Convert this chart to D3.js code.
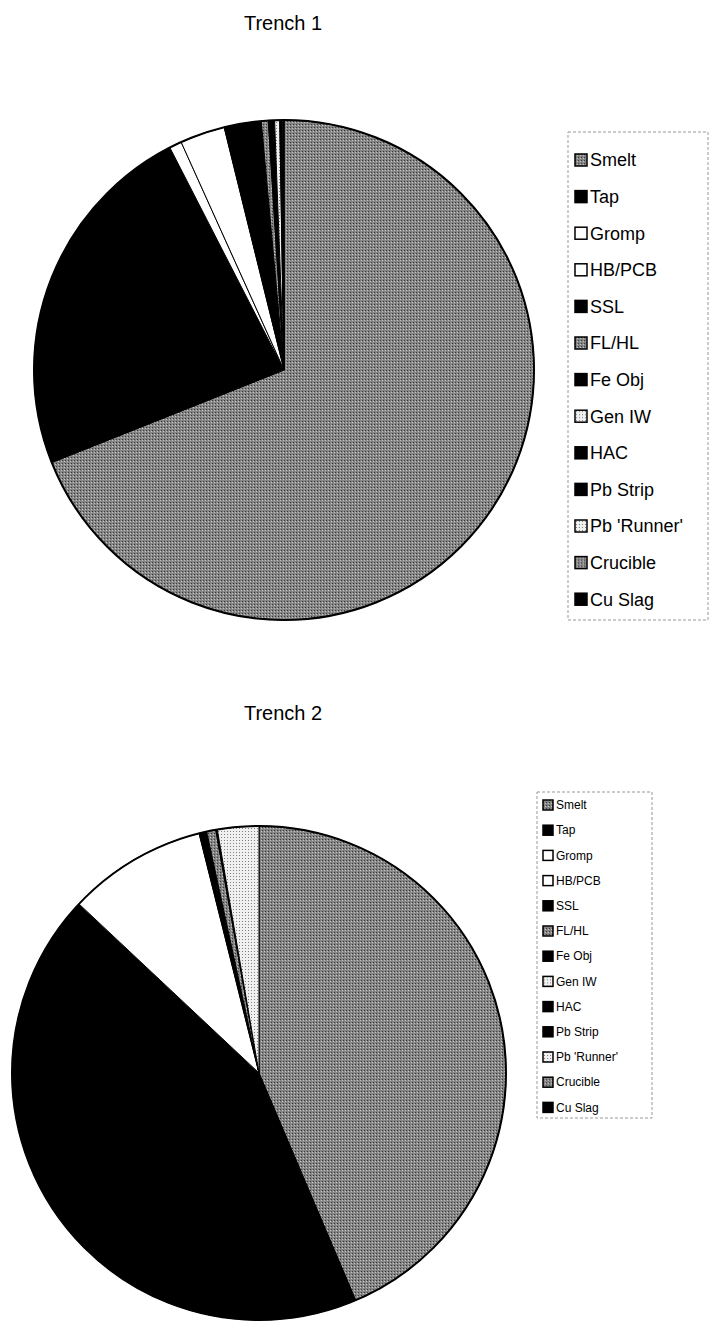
<!DOCTYPE html>
<html>
<head>
<meta charset="utf-8">
<script src="https://cdn.jsdelivr.net/npm/d3@7/dist/d3.min.js"></script>
<style>
  html, body { margin: 0; padding: 0; background: #fff; }
  svg { display: block; }
  text { font-family: "Liberation Sans", Arial, sans-serif; fill: #000; }
</style>
</head>
<body>
<svg id="chart" width="712" height="1324"></svg>
<script>
// ---- data ----
const categories = ["Smelt", "Tap", "Gromp", "HB/PCB", "SSL", "FL/HL", "Fe Obj", "Gen IW", "HAC", "Pb Strip", "Pb 'Runner'", "Crucible", "Cu Slag"];
const trench1Values = [69.0, 23.5, 0.8, 2.9, 2.4, 0.45, 0.4, 0.33, 0.1, 0.05, 0.05, 0.05, 0.02];
const trench2Values = [43.6, 43.4, 0.0, 9.1, 0.5, 0.6, 0.1, 2.7, 0.0, 0.0, 0.0, 0.0, 0.0];
const titles = ["Trench 1", "Trench 2"];
const fillKinds = ["gray", "black", "white", "white", "black", "gray", "black", "light", "black", "black", "light", "gray", "black"];

// ---- drawing ----
const svg = d3.select("#chart");
const defs = svg.append("defs");

const grayPat = defs.append("pattern").attr("id", "pat-gray")
  .attr("width", 3).attr("height", 3).attr("patternUnits", "userSpaceOnUse");
grayPat.append("rect").attr("width", 3).attr("height", 3).attr("fill", "#858585");
grayPat.append("rect").attr("x", 0).attr("y", 0).attr("width", 1).attr("height", 1).attr("fill", "#3a3a3a");
grayPat.append("rect").attr("x", 2).attr("y", 1).attr("width", 1).attr("height", 1).attr("fill", "#c4c4c4");

const lightPat = defs.append("pattern").attr("id", "pat-light")
  .attr("width", 3).attr("height", 3).attr("patternUnits", "userSpaceOnUse");
lightPat.append("rect").attr("width", 3).attr("height", 3).attr("fill", "#f0f0f0");
lightPat.append("rect").attr("x", 1).attr("y", 1).attr("width", 1).attr("height", 1).attr("fill", "#808080");

const fillFor = k => ({ gray: "url(#pat-gray)", black: "#000", white: "#fff", light: "url(#pat-light)" })[k];
const color = d3.scaleOrdinal().domain(categories).range(fillKinds.map(fillFor));

const panels = [
  { values: trench1Values, title: titles[0], cx: 284, cy: 370, r: 250, titleY: 30,
    legend: { x: 568, y: 132, w: 140, h: 488, font: 18, sw: 12, first: 160, step: 36.6, pad: 7 } },
  { values: trench2Values, title: titles[1], cx: 259, cy: 1073, r: 247, titleY: 720,
    legend: { x: 537, y: 792, w: 115, h: 326, font: 12, sw: 10, first: 805, step: 25.2, pad: 6 } }
];

const pie = d3.pie().sort(null).value(d => d.v);

panels.forEach(p => {
  const data = categories.map((c, i) => ({ c, v: p.values[i] }));
  const arc = d3.arc().innerRadius(0).outerRadius(p.r);

  svg.append("text").attr("x", 283).attr("y", p.titleY)
    .attr("text-anchor", "middle").attr("font-size", 20).text(p.title);

  const g = svg.append("g").attr("transform", `translate(${p.cx},${p.cy})`);
  g.selectAll("path").data(pie(data).filter(d => d.data.v > 0)).join("path")
    .attr("d", arc)
    .attr("fill", d => color(d.data.c))
    .attr("stroke", "#000").attr("stroke-width", 1);
  g.append("circle").attr("r", p.r).attr("fill", "none").attr("stroke", "#000").attr("stroke-width", 2);

  const L = p.legend;
  svg.append("rect").attr("x", L.x).attr("y", L.y).attr("width", L.w).attr("height", L.h)
    .attr("fill", "none").attr("stroke", "#999").attr("stroke-width", 1)
    .attr("stroke-dasharray", "3,2");
  const items = svg.append("g").selectAll("g").data(categories).join("g")
    .attr("transform", (d, i) => `translate(${L.x + L.pad},${L.first + i * L.step})`);
  items.append("rect").attr("x", 0).attr("y", -L.sw / 2).attr("width", L.sw).attr("height", L.sw)
    .attr("fill", d => color(d)).attr("stroke", "#000").attr("stroke-width", 1.5);
  items.append("text").attr("x", L.sw + 3).attr("y", 0).attr("dy", "0.35em")
    .attr("font-size", L.font).text(d => d);
});
</script>
</body>
</html>
